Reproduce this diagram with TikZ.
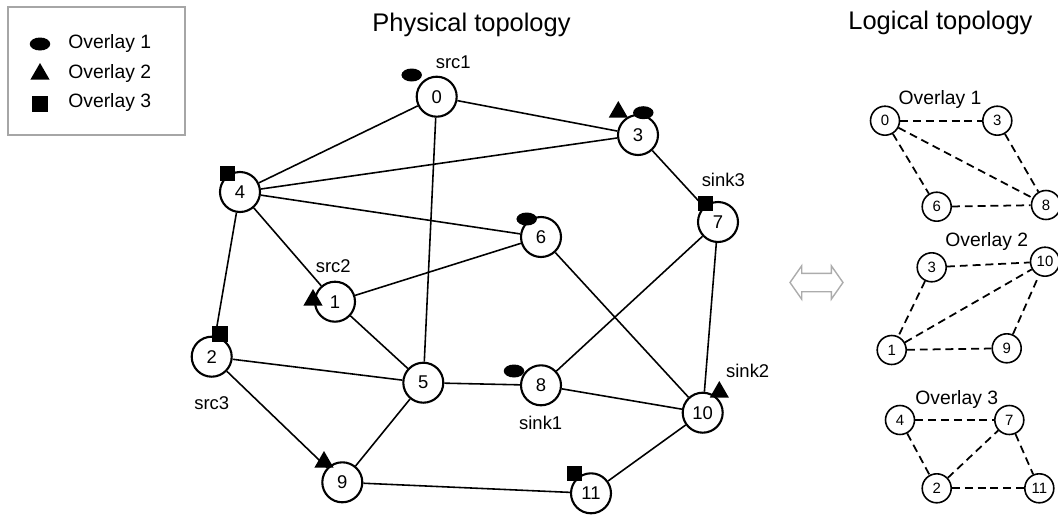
\documentclass[tikz,border=0pt]{standalone}
\usepackage{fontspec}
\setmainfont{Liberation Sans}
\usetikzlibrary{shapes.geometric,shapes.arrows}

\begin{document}
\begin{tikzpicture}[x=0.02cm, y=-0.02cm,
  phys/.style={draw, circle, line width=1.2pt, minimum size=0.8cm, inner sep=0pt,
               font=\fontsize{10.5}{12}\selectfont},
  logi/.style={draw, circle, line width=0.9pt, minimum size=0.58cm, inner sep=0pt,
               font=\fontsize{8.5}{10}\selectfont},
  lien/.style={line width=0.9pt},
  virt/.style={line width=1pt, dash pattern=on 4.5pt off 2.8pt},
  ov1/.style={ellipse, fill=black, minimum width=0.41cm, minimum height=0.26cm, inner sep=0pt},
  ov2/.style={regular polygon, regular polygon sides=3, fill=black, minimum size=0.44cm, inner sep=0pt},
  ov3/.style={rectangle, fill=black, minimum size=0.31cm, inner sep=0pt},
  lbl/.style={font=\fontsize{10.5}{12}\selectfont, inner sep=0pt},
  titre/.style={font=\fontsize{14.5}{17}\selectfont, inner sep=0pt},
  ovl/.style={font=\fontsize{11}{13}\selectfont, inner sep=0pt}
]
  \useasboundingbox (0,0) rectangle (1058,514);

  % Légende
  \node[draw=gray!70, line width=0.6pt, minimum width=3.54cm, minimum height=2.56cm,
        inner sep=0pt] (legende) at (96.5,71) {};
  \node[ov1] (l1) at (40,44) {};
  \node[ov2] (l2) at (40,74) {};
  \node[ov3] (l3) at (40,104) {};
  \node[ovl, anchor=west] (t1) at (68,44) {Overlay 1};
  \node[ovl, anchor=west] (t2) at (68,74) {Overlay 2};
  \node[ovl, anchor=west] (t3) at (68,103) {Overlay 3};

  % Titres
  \node[titre, anchor=base west] (physique) at (372,31) {Physical topology};
  \node[titre, anchor=base west] (logique) at (848,29) {Logical topology};

  % Topologie physique
  \node[phys] (n0)  at (436.7,96.7)  {0};
  \node[phys] (n1)  at (335,301.7)   {1};
  \node[phys] (n2)  at (211.7,356.7) {2};
  \node[phys] (n3)  at (638,135)     {3};
  \node[phys] (n4)  at (240,192)     {4};
  \node[phys] (n5)  at (423.3,382.7) {5};
  \node[phys] (n6)  at (541,237)     {6};
  \node[phys] (n7)  at (718,222)     {7};
  \node[phys] (n8)  at (541,385.3)   {8};
  \node[phys] (n9)  at (342.3,482.3) {9};
  \node[phys] (n10) at (702.7,412.7) {10};
  \node[phys] (n11) at (591,493.3)   {11};

  \foreach \a/\b in {0/3, 0/4, 0/5, 3/4, 3/7, 4/6, 4/1, 4/2, 6/1, 6/10,
                     7/8, 7/10, 1/5, 2/5, 2/9, 5/8, 5/9, 8/10, 10/11, 9/11}
    \draw[lien] (n\a) -- (n\b);

  % Marqueurs des overlays
  \node[ov1] (m0)  at (411.7,75)   {};
  \node[ov2] (m3a) at (618.3,112)  {};
  \node[ov1] (m3b) at (643.3,112.7) {};
  \node[ov3] (m4)  at (227.7,173.3) {};
  \node[ov1] (m6)  at (526.7,219)  {};
  \node[ov3] (m7)  at (705.7,203.3) {};
  \node[ov2] (m1)  at (313,300)    {};
  \node[ov3] (m2)  at (220,334)    {};
  \node[ov1] (m8)  at (514,371)    {};
  \node[ov2] (m9)  at (324,462)    {};
  \node[ov2] (m10) at (719.3,392)  {};
  \node[ov3] (m11) at (574.3,473.3) {};

  % Sources et puits
  \node[lbl] (src1)  at (453.3,62.7)  {src1};
  \node[lbl] (src2)  at (333.3,266)   {src2};
  \node[lbl] (src3)  at (211.7,403.3) {src3};
  \node[lbl] (sink1) at (540.7,422.7) {sink1};
  \node[lbl] (sink2) at (747.7,371)   {sink2};
  \node[lbl] (sink3) at (723.3,180)   {sink3};

  % Équivalence
  \node[double arrow, draw=gray!65, line width=0.8pt, minimum width=0pt,
        minimum height=1.06cm, inner xsep=0pt, inner ysep=0.17cm,
        double arrow head extend=0.15cm, double arrow tip angle=110]
        (equiv) at (816.5,282.5) {};

  % Topologie logique : overlay 1
  \node[ovl] (o1) at (940,100) {Overlay 1};
  \node[logi] (a0) at (885,120.7)   {0};
  \node[logi] (a3) at (997.3,120.7) {3};
  \node[logi] (a6) at (936.7,206.7) {6};
  \node[logi] (a8) at (1046,205)    {8};
  \foreach \a/\b in {0/3, 0/6, 0/8, 3/8, 6/8}
    \draw[virt] (a\a) -- (a\b);

  % Overlay 2
  \node[ovl] (o2) at (986.7,241.7) {Overlay 2};
  \node[logi] (b3)  at (931.7,267.3) {3};
  \node[logi] (b10) at (1045,261.7)  {10};
  \node[logi] (b1)  at (891.7,350)   {1};
  \node[logi] (b9)  at (1006.7,348.3) {9};
  \foreach \a/\b in {3/10, 3/1, 1/10, 1/9, 9/10}
    \draw[virt] (b\a) -- (b\b);

  % Overlay 3
  \node[ovl] (o3) at (956.7,399.3) {Overlay 3};
  \node[logi] (c4)  at (900,420)     {4};
  \node[logi] (c7)  at (1009.3,420)  {7};
  \node[logi] (c2)  at (936.7,488.3) {2};
  \node[logi] (c11) at (1039.3,488.3) {11};
  \foreach \a/\b in {4/7, 4/2, 2/7, 7/11, 2/11}
    \draw[virt] (c\a) -- (c\b);
\end{tikzpicture}
\end{document}
